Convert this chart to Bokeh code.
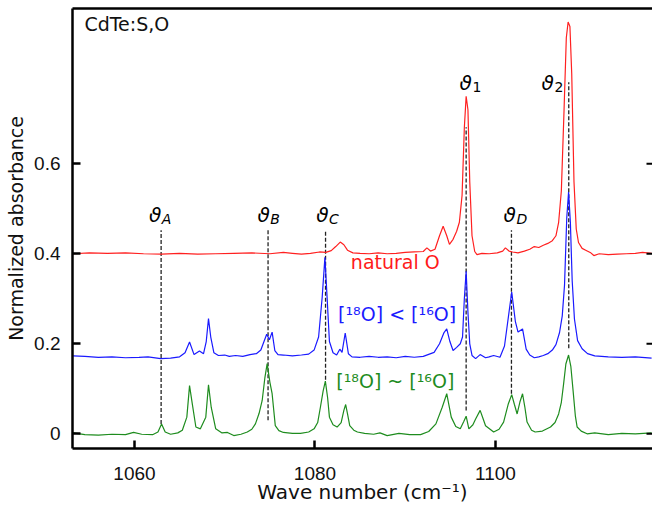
import math
from bokeh.plotting import figure
from bokeh.models import Range1d, FixedTicker, LinearAxis
from bokeh.core.properties import value
from bokeh.embed import file_html
from bokeh.resources import INLINE

# ---------------- data ----------------
red_x = [1053.2, 1055.0, 1057.0, 1059.0, 1061.0, 1063.0, 1065.0, 1067.0, 1069.0, 1071.0,
         1073.0, 1075.0, 1076.5, 1077.5, 1078.5, 1079.5, 1080.5, 1081.2, 1081.8, 1082.3,
         1082.8, 1083.2, 1083.6, 1084.2, 1085.0, 1086.0, 1087.0, 1088.0, 1089.0, 1090.0,
         1091.0, 1092.0, 1092.4, 1092.8, 1093.3, 1093.8, 1094.2, 1094.6, 1094.9, 1095.3,
         1095.7, 1096.0, 1096.3, 1096.55, 1096.75, 1096.95, 1097.15, 1097.4, 1097.7, 1097.95,
         1098.5, 1099.3, 1100.2, 1100.8, 1101.1, 1101.5, 1101.9, 1102.5, 1103.2, 1103.8,
         1104.3, 1104.8, 1105.3, 1105.8, 1106.3, 1106.7, 1107.0, 1107.3, 1107.6, 1107.85,
         1108.05, 1108.25, 1108.45, 1108.7, 1108.95, 1109.2, 1109.6, 1110.0, 1110.5, 1110.9,
         1111.5, 1112.5, 1113.5, 1114.5, 1115.5, 1116.3, 1117.3]
red_y = [0.400, 0.402, 0.401, 0.402, 0.400, 0.399, 0.401, 0.399, 0.400, 0.401,
         0.402, 0.400, 0.403, 0.401, 0.399, 0.401, 0.404, 0.403, 0.407, 0.416,
         0.426, 0.420, 0.408, 0.402, 0.401, 0.400, 0.402, 0.400, 0.401, 0.403,
         0.404, 0.405, 0.413, 0.406, 0.410, 0.440, 0.461, 0.440, 0.421, 0.432,
         0.450, 0.470, 0.530, 0.680, 0.750, 0.720, 0.560, 0.440, 0.405, 0.398,
         0.401, 0.400, 0.402, 0.406, 0.413, 0.406, 0.404, 0.402, 0.406, 0.410,
         0.416, 0.414, 0.419, 0.423, 0.429, 0.440, 0.470, 0.540, 0.720, 0.880,
         0.915, 0.905, 0.800, 0.560, 0.455, 0.425, 0.412, 0.408, 0.403, 0.396,
         0.400, 0.398, 0.399, 0.400, 0.401, 0.403, 0.401]

blue_x = [1053.2, 1054.5, 1056.0, 1057.5, 1059.0, 1060.5, 1061.5, 1062.9, 1064.0, 1065.0,
          1065.6, 1066.1, 1066.6, 1067.2, 1067.65, 1067.95, 1068.2, 1068.45, 1068.8, 1069.3,
          1070.0, 1070.5, 1071.2, 1072.0, 1072.8, 1073.5, 1074.0, 1074.35, 1074.65, 1074.95,
          1075.25, 1075.55, 1075.9, 1076.5, 1077.5, 1078.5, 1079.3, 1079.9, 1080.4, 1080.8,
          1081.1, 1081.35, 1081.6, 1082.0, 1082.4, 1082.75, 1083.0, 1083.35, 1083.7, 1084.1,
          1085.0, 1086.0, 1087.0, 1088.0, 1089.0, 1090.0, 1091.0, 1092.0, 1093.2, 1093.8,
          1094.3, 1094.6, 1094.95, 1095.3, 1095.7, 1096.1, 1096.35, 1096.55, 1096.75, 1096.95,
          1097.15, 1097.4, 1097.8, 1098.3, 1098.9, 1099.3, 1099.8, 1100.5, 1101.0, 1101.3,
          1101.8, 1102.2, 1102.5, 1103.0, 1103.4, 1103.8, 1104.3, 1104.8, 1105.3, 1105.8,
          1106.3, 1106.7, 1107.1, 1107.4, 1107.65, 1107.9, 1108.1, 1108.3, 1108.5, 1108.75,
          1109.1, 1109.6, 1110.2, 1111.0, 1112.5, 1114.0, 1115.5, 1117.3]
blue_y = [0.173, 0.172, 0.170, 0.171, 0.169, 0.170, 0.171, 0.167, 0.168, 0.171,
          0.180, 0.204, 0.176, 0.184, 0.178, 0.205, 0.256, 0.215, 0.180, 0.174,
          0.175, 0.172, 0.174, 0.172, 0.176, 0.178, 0.186, 0.205, 0.221, 0.209,
          0.226, 0.185, 0.176, 0.175, 0.173, 0.175, 0.177, 0.186, 0.215, 0.304,
          0.392, 0.300, 0.205, 0.180, 0.175, 0.188, 0.181, 0.224, 0.178, 0.171,
          0.170, 0.172, 0.170, 0.171, 0.169, 0.172, 0.170, 0.172, 0.181, 0.200,
          0.225, 0.233, 0.205, 0.185, 0.192, 0.200, 0.215, 0.300, 0.361, 0.270,
          0.200, 0.174, 0.167, 0.176, 0.169, 0.171, 0.174, 0.170, 0.195, 0.240,
          0.315, 0.250, 0.226, 0.233, 0.188, 0.175, 0.169, 0.171, 0.174, 0.178,
          0.186, 0.198, 0.225, 0.262, 0.330, 0.480, 0.537, 0.470, 0.340, 0.255,
          0.207, 0.189, 0.178, 0.173, 0.171, 0.170, 0.171, 0.168]

green_x = [1053.2, 1054.5, 1056.0, 1057.5, 1059.0, 1059.9, 1060.8, 1062.0, 1062.6, 1063.0,
           1063.4, 1064.0, 1064.8, 1065.3, 1065.8, 1066.1, 1066.4, 1066.8, 1067.3, 1067.9,
           1068.2, 1068.5, 1069.0, 1069.7, 1070.3, 1071.0, 1071.8, 1072.5, 1073.0, 1073.4,
           1073.8, 1074.15, 1074.45, 1074.7, 1075.0, 1075.25, 1075.6, 1076.0, 1076.5, 1077.5,
           1078.4, 1079.3, 1079.9, 1080.3, 1080.6, 1080.9, 1081.15, 1081.4, 1081.6, 1082.0,
           1082.45, 1082.9, 1083.2, 1083.4, 1083.6, 1083.85, 1084.3, 1084.7, 1085.5, 1086.5,
           1087.2, 1088.0, 1089.3, 1090.5, 1091.7, 1092.6, 1093.4, 1094.1, 1094.6, 1095.1,
           1095.6, 1096.1, 1096.5, 1096.75, 1097.05, 1097.5, 1097.8, 1098.3, 1098.6, 1098.9,
           1099.8, 1100.4, 1100.9, 1101.4, 1101.8, 1102.1, 1102.4, 1102.7, 1103.0, 1103.25,
           1103.5, 1104.0, 1104.4, 1105.2, 1106.1, 1106.6, 1107.0, 1107.3, 1107.55, 1107.8,
           1108.1, 1108.35, 1108.6, 1108.85, 1109.05, 1109.5, 1110.15, 1111.0, 1112.5, 1114.0,
           1115.5, 1117.3]
green_y = [0.002, -0.002, -0.003, -0.001, -0.002, 0.003, -0.001, -0.002, 0.004, 0.022,
           0.004, -0.001, 0.002, 0.008, 0.037, 0.107, 0.067, 0.015, 0.011, 0.037,
           0.109, 0.059, 0.011, 0.002, 0.003, -0.004, -0.001, 0.004, 0.010, 0.022,
           0.045, 0.074, 0.125, 0.156, 0.115, 0.089, 0.018, 0.007, 0.003, 0.001,
           0.001, 0.004, 0.011, 0.025, 0.059, 0.095, 0.117, 0.080, 0.037, 0.020,
           0.015, 0.025, 0.052, 0.065, 0.045, 0.018, 0.008, 0.004, 0.001, -0.001,
           0.002, -0.004, 0.001, -0.002, -0.002, 0.005, 0.022, 0.059, 0.089, 0.037,
           0.016, 0.011, 0.028, 0.039, 0.011, 0.020, 0.033, 0.052, 0.035, 0.018,
           0.004, 0.010, 0.026, 0.065, 0.087, 0.065, 0.044, 0.070, 0.089, 0.060,
           0.026, 0.008, 0.004, 0.006, 0.015, 0.025, 0.044, 0.070, 0.111, 0.155,
           0.175, 0.150, 0.096, 0.040, 0.015, 0.006, 0.000, 0.002, -0.002, 0.001,
           0.000, 0.002]

# vibrational mode markers
mode_names = ["A", "B", "C", "1", "D", "2"]
mode_x = [1062.95, 1074.8, 1081.17, 1096.75, 1101.77, 1108.12]
mode_top = [0.452, 0.452, 0.452, 0.681, 0.452, 0.781]
mode_bottom = [0.022, 0.030, 0.120, 0.052, 0.089, 0.190]
label_y = [0.486, 0.486, 0.486, 0.779, 0.486, 0.779]

x_ticks = [1060, 1080, 1100]
y_ticks = [0, 0.2, 0.4, 0.6]
y_tick_labels = ["0", "0.2", "0.4", "0.6"]

series_names = ["natural O", "[¹⁸O] < [¹⁶O]", "[¹⁸O] ~ [¹⁶O]"]
series_label_x = [1088.9, 1089.1, 1088.9]
series_label_y = [0.382, 0.267, 0.117]

# ---------------- plot ----------------
FONT = "DejaVu Sans"
X0, X1 = 1053.13, 1117.4
p = figure(width=652, height=508, output_backend="svg", toolbar_location=None,
           x_range=Range1d(X0, X1), y_range=Range1d(-0.0327, 0.945),
           min_border_left=72, min_border_right=0, min_border_top=8, min_border_bottom=60)
p.outline_line_color = None
p.grid.visible = False
p.background_fill_color = "white"
p.border_fill_color = "white"

# dashed markers (behind spectra)
for xv, yb, yt in zip(mode_x, mode_bottom, mode_top):
    p.line([xv, xv], [yb, yt], line_color="#222222", line_width=1.3, line_dash="4 2")

p.line(red_x, red_y, line_color="#ff2020", line_width=1.2)
p.line(blue_x, blue_y, line_color="#1a1aff", line_width=1.2)
p.line(green_x, green_y, line_color="#1e8c1e", line_width=1.2)

# theta labels
offs = [-0.3, 1.3, 2.5, 5.3, 4.0, -15.3]
for name, xv, yv, off in zip(mode_names, mode_x, label_y, offs):
    p.text(x=[xv], y=[yv], text=["ϑ"], text_font=value(FONT), text_font_style="italic",
           text_font_size="20px", text_align="right", text_baseline="alphabetic",
           x_offset=off + 0.5, text_color="black")
    italic = name.isalpha()
    p.text(x=[xv], y=[yv], text=[name], text_font=value(FONT),
           text_font_style="italic" if italic else "normal",
           text_font_size="14px", text_align="left", text_baseline="alphabetic",
           x_offset=off + 1, y_offset=4, text_color="black")

colors = ["#ff1a1a", "#1a1aff", "#1e8c1e"]
for t, xv, yv, c in zip(series_names, series_label_x, series_label_y, colors):
    p.text(x=[xv], y=[yv], text=[t], text_font=value(FONT), text_font_size="19px",
           text_align="center", text_baseline="alphabetic", text_color=c)

p.text(x=[1054.45], y=[0.91], text=["CdTe:S,O"], text_font=value(FONT),
       text_font_size="19px", text_align="left", text_baseline="alphabetic",
       text_color="#111111")

# inward ticks on the right frame edge
p.ray(x=[X1] * len(y_ticks), y=y_ticks, length=6, length_units="screen",
      angle=math.pi, line_color="black", line_width=2)

# axes
xa = p.xaxis[0]
xa.ticker = FixedTicker(ticks=x_ticks)
xa.axis_label = "Wave number (cm⁻¹)"
ya = p.yaxis[0]
ya.ticker = FixedTicker(ticks=y_ticks)
ya.major_label_overrides = {t: l for t, l in zip(y_ticks, y_tick_labels)}
ya.axis_label = "Normalized absorbance"
for ax in (xa, ya):
    ax.axis_line_width = 2.5
    ax.axis_line_color = "black"
    ax.major_tick_in = 8
    ax.major_tick_out = 0
    ax.major_tick_line_width = 2.5
    ax.minor_tick_line_color = None
    ax.major_label_text_font = "Liberation Sans"
    ax.major_label_text_font_size = "19px"
    ax.major_label_text_color = "#111111"
    ax.axis_label_text_font = FONT
    ax.axis_label_text_font_size = "19px"
    ax.axis_label_text_font_style = "normal"
    ax.axis_label_text_color = "#111111"
xa.major_label_standoff = 18
xa.axis_label_standoff = -3
xa.axis_label_text_font_size = "20px"
ya.major_label_standoff = 12
ya.axis_label_standoff = 4

top = LinearAxis(ticker=FixedTicker(ticks=[]), axis_line_width=2.5, axis_line_color="black",
                 major_tick_in=0, major_tick_out=0, major_label_standoff=0,
                 minor_tick_line_color=None)
p.add_layout(top, "above")

open("out.html", "w").write(file_html(p, INLINE))
